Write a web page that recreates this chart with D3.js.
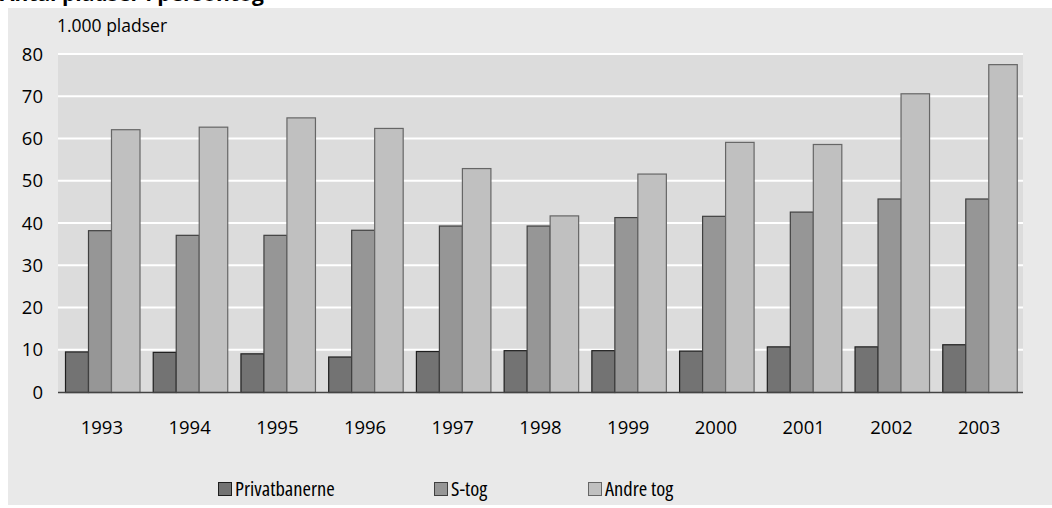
<!DOCTYPE html>
<html><head><meta charset="utf-8">
<script src="https://cdn.jsdelivr.net/npm/d3@7"></script>
<style>
html,body{margin:0;padding:0;background:#fff;}
svg{display:block;font-family:"Open Sans",sans-serif;}
.lbl{font-stretch:90%;}
.unit{font-stretch:90%;}
.leg{font-stretch:75%;}
</style></head>
<body><svg id="c" width="1052" height="508"></svg>
<script>
const years = ["1993","1994","1995","1996","1997","1998","1999","2000","2001","2002","2003"];
const seriesNames = ["Privatbanerne","S-tog","Andre tog"];
const privatbanerne = [9.6,9.5,9.15,8.4,9.7,9.9,9.9,9.8,10.8,10.8,11.3];
const stog = [38.3,37.2,37.2,38.4,39.4,39.4,41.4,41.7,42.7,45.8,45.8];
const andreTog = [62.2,62.8,65.0,62.5,53.0,41.8,51.7,59.2,58.7,70.7,77.6];
const yTicks = [0,10,20,30,40,50,60,70,80];
const unitLabel = "1.000 pladser";
const titleText = "Antal pladser i persontog";

const seriesValues = [privatbanerne, stog, andreTog];
const fills = ["#737373","#969696","#c0c0c0"];
const strokes = ["#1e1e1e","#404040","#666666"];

const svg = d3.select("#c");
const L = 58, R = 1023, T = 54, B = 392;

// title (cut off at top, only descenders visible as in the reference)
svg.append("text").attr("x", 0).attr("y", 0.5)
  .attr("font-weight","bold")
  .attr("font-size",21).attr("fill","#000").text(titleText);

svg.append("rect").attr("x",8).attr("y",8).attr("width",1044).attr("height",497).attr("fill","#e9e9e9");
svg.append("rect").attr("x",L).attr("y",T).attr("width",R-L).attr("height",B-T).attr("fill","#dcdcdc");

const y = d3.scaleLinear().domain([0,80]).range([B,T]);
const x0 = d3.scaleBand().domain(years).range([L,R]).paddingInner(0).paddingOuter(0);
const sub = d3.scaleOrdinal().domain(seriesNames).range([7,30,53]);
const subW = d3.scaleOrdinal().domain(seriesNames).range([23,23,28.5]);

svg.append("g").selectAll("line").data(yTicks.filter(d=>d>0)).join("line")
  .attr("x1",L).attr("x2",R).attr("y1",d=>y(d)).attr("y2",d=>y(d))
  .attr("stroke","#ffffff").attr("stroke-width",2);

svg.append("g").selectAll("text").data(yTicks).join("text").attr("class","lbl")
  .attr("x",43).attr("y",d=>y(d)+6.5).attr("text-anchor","end")
  .attr("font-size",18.5).attr("fill","#000").text(d=>d);

svg.append("text").attr("class","unit").attr("x",57).attr("y",32).attr("font-size",17.5).attr("fill","#000").text(unitLabel);

seriesNames.forEach((s,si)=>{
  svg.append("g").selectAll("rect").data(years).join("rect")
    .attr("x",(d)=>x0(d)+sub(s)+0.5)
    .attr("y",(d,i)=>y(seriesValues[si][i])+0.5)
    .attr("width",subW(s))
    .attr("height",(d,i)=>B-y(seriesValues[si][i]))
    .attr("fill",fills[si]).attr("stroke",strokes[si]).attr("stroke-width",1.2);
});

svg.append("line").attr("x1",L).attr("x2",R).attr("y1",B+0.5).attr("y2",B+0.5).attr("stroke","#444").attr("stroke-width",1.3);

svg.append("g").selectAll("text").data(years).join("text").attr("class","lbl")
  .attr("x",d=>x0(d)+x0.bandwidth()/2).attr("y",434).attr("text-anchor","middle")
  .attr("font-size",18.5).attr("fill","#000").text(d=>d);

const legX = [218,434,588];
const lg = svg.append("g").selectAll("g").data(seriesNames).join("g")
  .attr("transform",(d,i)=>`translate(${legX[i]},482)`);
lg.append("rect").attr("x",0.5).attr("y",0.5).attr("width",13).attr("height",13)
  .attr("fill",(d,i)=>fills[i]).attr("stroke",(d,i)=>strokes[i]).attr("stroke-width",1);
lg.append("text").attr("class","leg").attr("x",17).attr("y",14).attr("font-size",20.5).attr("fill","#000").text(d=>d);
</script></body></html>
